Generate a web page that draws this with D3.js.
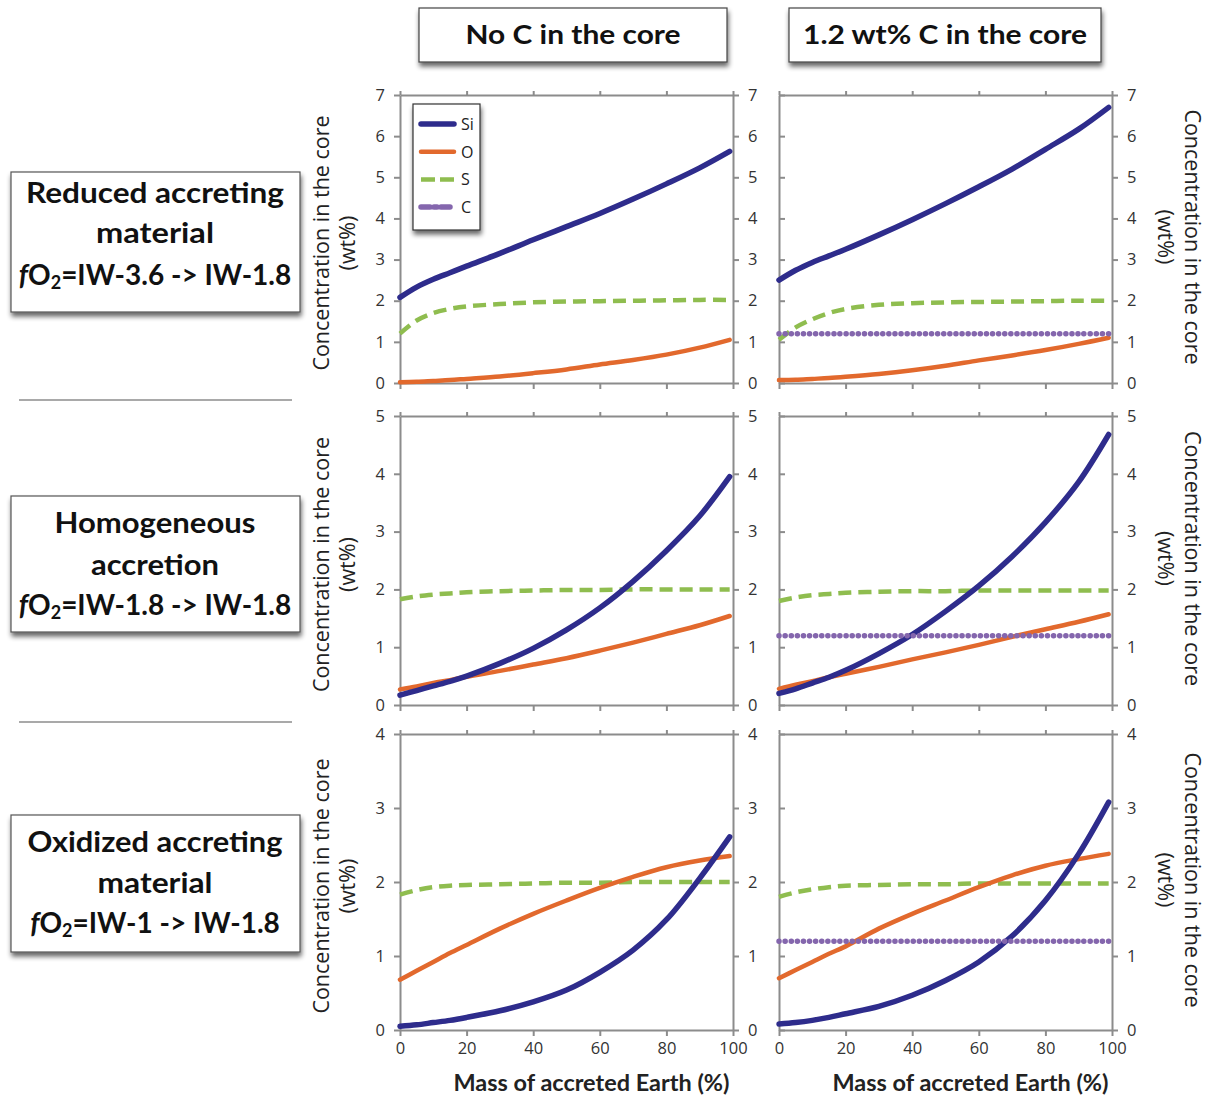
<!DOCTYPE html>
<html>
<head>
<meta charset="utf-8">
<script src="https://cdn.jsdelivr.net/npm/d3@7"></script>
<style>
  html, body { margin: 0; padding: 0; background: #fff; }
  svg { display: block; }
</style>
</head>
<body>
<svg id="chart" width="1211" height="1099"></svg>
<script>
// ---------------- DATA ----------------
const massAccreted = [0, 5, 10, 15, 20, 30, 40, 50, 60, 70, 80, 90, 99];
const xTicks = [0, 20, 40, 60, 80, 100];
const columnTitles = ["No C in the core", "1.2 wt% C in the core"];
const rowTitles = [
  ["Reduced accreting", "material", "IW-3.6 -> IW-1.8"],
  ["Homogeneous", "accretion", "IW-1.8 -> IW-1.8"],
  ["Oxidized accreting", "material", "IW-1 -> IW-1.8"]
];
const yMax = [7, 5, 4];
const seriesNames = ["Si", "O", "S", "C"];

// Reduced, no C
const siReducedNoC = [2.08, 2.33, 2.52, 2.68, 2.84, 3.15, 3.48, 3.80, 4.12, 4.47, 4.84, 5.23, 5.63];
const oReducedNoC  = [0.02, 0.03, 0.05, 0.07, 0.10, 0.16, 0.24, 0.33, 0.45, 0.56, 0.69, 0.86, 1.05];
const sReducedNoC  = [1.20, 1.52, 1.70, 1.80, 1.86, 1.92, 1.96, 1.98, 1.99, 2.00, 2.01, 2.02, 2.02];
// Reduced, 1.2 wt% C
const siReducedC = [2.50, 2.74, 2.93, 3.09, 3.25, 3.60, 3.97, 4.36, 4.77, 5.20, 5.68, 6.17, 6.70];
const oReducedC  = [0.07, 0.08, 0.10, 0.12, 0.15, 0.22, 0.31, 0.42, 0.55, 0.67, 0.80, 0.95, 1.10];
const sReducedC  = [1.05, 1.35, 1.55, 1.70, 1.80, 1.90, 1.94, 1.96, 1.97, 1.98, 1.99, 2.00, 2.00];
const cReducedC  = [1.20, 1.20, 1.20, 1.20, 1.20, 1.20, 1.20, 1.20, 1.20, 1.20, 1.20, 1.20, 1.20];
// Homogeneous, no C
const siHomogNoC = [0.17, 0.25, 0.33, 0.41, 0.50, 0.72, 0.98, 1.30, 1.68, 2.14, 2.67, 3.27, 3.95];
const oHomogNoC  = [0.27, 0.32, 0.38, 0.43, 0.49, 0.59, 0.70, 0.81, 0.94, 1.08, 1.23, 1.38, 1.54];
const sHomogNoC  = [1.83, 1.88, 1.91, 1.93, 1.95, 1.97, 1.98, 1.99, 1.99, 2.00, 2.00, 2.00, 2.00];
// Homogeneous, 1.2 wt% C
const siHomogC = [0.20, 0.28, 0.38, 0.48, 0.60, 0.89, 1.22, 1.62, 2.06, 2.57, 3.16, 3.86, 4.68];
const oHomogC  = [0.28, 0.35, 0.41, 0.48, 0.54, 0.66, 0.79, 0.91, 1.04, 1.18, 1.31, 1.44, 1.57];
const sHomogC  = [1.80, 1.86, 1.90, 1.92, 1.94, 1.96, 1.97, 1.97, 1.98, 1.98, 1.98, 1.98, 1.98];
const cHomogC  = [1.20, 1.20, 1.20, 1.20, 1.20, 1.20, 1.20, 1.20, 1.20, 1.20, 1.20, 1.20, 1.20];
// Oxidized, no C
const siOxidNoC = [0.05, 0.07, 0.10, 0.13, 0.17, 0.26, 0.38, 0.54, 0.78, 1.08, 1.49, 2.05, 2.61];
const oOxidNoC  = [0.68, 0.80, 0.92, 1.04, 1.15, 1.37, 1.57, 1.75, 1.92, 2.07, 2.20, 2.29, 2.35];
const sOxidNoC  = [1.83, 1.89, 1.93, 1.95, 1.96, 1.97, 1.98, 1.99, 1.99, 2.00, 2.00, 2.00, 2.00];
// Oxidized, 1.2 wt% C
const siOxidC = [0.08, 0.10, 0.13, 0.17, 0.22, 0.32, 0.47, 0.67, 0.92, 1.27, 1.75, 2.38, 3.08];
const oOxidC  = [0.70, 0.81, 0.92, 1.03, 1.13, 1.37, 1.57, 1.75, 1.93, 2.09, 2.22, 2.31, 2.38];
const sOxidC  = [1.80, 1.86, 1.90, 1.93, 1.95, 1.96, 1.97, 1.97, 1.98, 1.98, 1.98, 1.98, 1.98];
const cOxidC  = [1.20, 1.20, 1.20, 1.20, 1.20, 1.20, 1.20, 1.20, 1.20, 1.20, 1.20, 1.20, 1.20];

const panelSeries = [
  [{Si: siReducedNoC, O: oReducedNoC, S: sReducedNoC}, {Si: siReducedC, O: oReducedC, S: sReducedC, C: cReducedC}],
  [{Si: siHomogNoC, O: oHomogNoC, S: sHomogNoC}, {Si: siHomogC, O: oHomogC, S: sHomogC, C: cHomogC}],
  [{Si: siOxidNoC, O: oOxidNoC, S: sOxidNoC}, {Si: siOxidC, O: oOxidC, S: sOxidC, C: cOxidC}]
];

// ---------------- STYLE / LAYOUT ----------------
const styles = {
  Si: {color: "#2e2c8c", width: 5.5, dash: null, cap: "round"},
  O:  {color: "#e2692d", width: 4.5, dash: null, cap: "round"},
  S:  {color: "#8fbd4f", width: 4.5, dash: "13,7", cap: "butt"},
  C:  {color: "#8466ad", width: 5.5, dash: "0.1,6", cap: "round"}
};
const drawOrder = ["S", "O", "Si", "C"];
const cols = [{x0: 400, x1: 733}, {x0: 779, x1: 1112}];
const rows = [{top: 95, bot: 383}, {top: 416, bot: 705}, {top: 734, bot: 1030}];
const axisColor = "#8c8c8c";
const tickFont = "'Open Sans', 'DejaVu Sans', sans-serif";
const labelFont = "Lato, 'Open Sans', sans-serif";

const svg = d3.select("#chart");
const defs = svg.append("defs");
const sh = defs.append("filter").attr("id", "shadow").attr("x", "-10%").attr("y", "-10%").attr("width", "130%").attr("height", "140%");
sh.append("feGaussianBlur").attr("in", "SourceAlpha").attr("stdDeviation", 2.5);
sh.append("feOffset").attr("dx", 1).attr("dy", 4).attr("result", "ob");
sh.append("feComponentTransfer").append("feFuncA").attr("type", "linear").attr("slope", 0.6);
const mg = sh.append("feMerge");
mg.append("feMergeNode");
mg.append("feMergeNode").attr("in", "SourceGraphic");

// ---------------- COLUMN HEADERS ----------------
const headerBoxes = [{x: 419, w: 308, tl: 215}, {x: 789, w: 312, tl: 284}];
columnTitles.forEach((t, i) => {
  const b = headerBoxes[i];
  svg.append("rect").attr("x", b.x).attr("y", 8).attr("width", b.w).attr("height", 54)
    .attr("fill", "#fff").attr("stroke", "#444").attr("stroke-width", 1.2).attr("filter", "url(#shadow)");
  svg.append("text").attr("x", b.x + b.w / 2).attr("y", 44).attr("text-anchor", "middle")
    .attr("font-family", labelFont).attr("font-weight", "bold").attr("font-size", 27)
    .attr("textLength", b.tl).attr("lengthAdjust", "spacingAndGlyphs")
    .attr("fill", "#111").text(t);
});

// ---------------- ROW LABELS ----------------
const rowBoxes = [
  {y: 172, h: 140, base: [203, 243, 285], tl: [258, 118]},
  {y: 496, h: 136, base: [533, 575, 615], tl: [201, 128]},
  {y: 815, h: 137, base: [852, 893, 933], tl: [255, 115]}
];
rowTitles.forEach((lines, i) => {
  const b = rowBoxes[i];
  svg.append("rect").attr("x", 11).attr("y", b.y).attr("width", 289).attr("height", b.h)
    .attr("fill", "#fff").attr("stroke", "#555").attr("stroke-width", 1.2).attr("filter", "url(#shadow)");
  [0, 1].forEach(k => {
    svg.append("text").attr("x", 155).attr("y", b.base[k]).attr("text-anchor", "middle")
      .attr("font-family", labelFont).attr("font-weight", "bold").attr("font-size", 28)
      .attr("textLength", b.tl[k]).attr("lengthAdjust", "spacingAndGlyphs")
      .attr("fill", "#111").text(lines[k]);
  });
  const t = svg.append("text").attr("x", 155).attr("y", b.base[2]).attr("text-anchor", "middle")
    .attr("font-family", labelFont).attr("font-weight", "bold").attr("font-size", 28).attr("fill", "#111");
  t.append("tspan").attr("font-style", "italic").text("f");
  t.append("tspan").text("O");
  t.append("tspan").attr("font-size", 18).attr("dy", 4).text("2");
  t.append("tspan").attr("dy", -4).text("=" + lines[2]);
});
// separators
[400, 722].forEach(yy => {
  svg.append("line").attr("x1", 19).attr("x2", 292).attr("y1", yy).attr("y2", yy)
    .attr("stroke", "#555").attr("stroke-width", 1.2);
});

// ---------------- PANELS ----------------
function styleAxis(g) {
  g.selectAll(".domain").attr("stroke", axisColor).attr("stroke-width", 2);
  g.selectAll(".tick line").attr("stroke", axisColor).attr("stroke-width", 2);
  g.selectAll(".tick text").attr("fill", "#333").attr("font-family", tickFont).attr("font-size", 16.5);
}
const fmt = d3.format("d");

rows.forEach((r, ri) => {
  cols.forEach((c, ci) => {
    const x = d3.scaleLinear().domain([0, 100]).range([c.x0, c.x1]);
    const y = d3.scaleLinear().domain([0, yMax[ri]]).range([r.bot, r.top]);
    const g = svg.append("g");
    const yt = d3.range(0, yMax[ri] + 1);

    // top
    g.append("g").attr("transform", `translate(0,${r.top})`)
      .call(d3.axisTop(x).tickValues(xTicks).tickSize(4).tickFormat("").tickSizeOuter(0)).call(styleAxis);
    // bottom
    const bx = d3.axisBottom(x).tickValues(xTicks).tickSize(6).tickPadding(6).tickSizeOuter(0).tickFormat(fmt);
    if (ri !== 2) bx.tickFormat("");
    g.append("g").attr("transform", `translate(0,${r.bot})`).call(bx).call(styleAxis);
    // left
    if (ci === 0) {
      g.append("g").attr("transform", `translate(${c.x0},0)`)
        .call(d3.axisLeft(y).tickValues(yt).tickSize(6).tickPadding(9).tickSizeOuter(0).tickFormat(fmt)).call(styleAxis);
    } else {
      g.append("g").attr("transform", `translate(${c.x0},0)`)
        .call(d3.axisRight(y).tickValues(yt).tickSize(6).tickFormat("").tickSizeOuter(0)).call(styleAxis);
    }
    // right
    g.append("g").attr("transform", `translate(${c.x1},0)`)
      .call(d3.axisRight(y).tickValues(yt).tickSize(6).tickPadding(9).tickSizeOuter(0).tickFormat(fmt)).call(styleAxis);

    // lines
    const line = d3.line().x(d => x(d[0])).y(d => y(d[1])).curve(d3.curveCatmullRom.alpha(0.5));
    const ser = panelSeries[ri][ci];
    drawOrder.forEach(name => {
      if (!ser[name]) return;
      const st = styles[name];
      g.append("path").datum(massAccreted.map((m, i) => [m, ser[name][i]]))
        .attr("d", line).attr("fill", "none").attr("stroke", st.color)
        .attr("stroke-width", st.width).attr("stroke-linecap", st.cap)
        .attr("stroke-dasharray", st.dash);
    });

    // y titles
    const cy = (r.top + r.bot) / 2;
    const titleSize = 21.5;
    if (ci === 0) {
      svg.append("text").attr("transform", `translate(320,${cy + 4}) rotate(-90)`)
        .attr("text-anchor", "middle").attr("dominant-baseline", "central")
        .attr("font-family", tickFont).attr("font-size", titleSize).attr("fill", "#222").text("Concentration in the core");
      svg.append("text").attr("transform", `translate(346,${cy + 4}) rotate(-90)`)
        .attr("text-anchor", "middle").attr("dominant-baseline", "central")
        .attr("font-family", tickFont).attr("font-size", titleSize).attr("fill", "#222").text("(wt%)");
    } else {
      svg.append("text").attr("transform", `translate(1193,${cy - 2}) rotate(90)`)
        .attr("text-anchor", "middle").attr("dominant-baseline", "central")
        .attr("font-family", tickFont).attr("font-size", titleSize).attr("fill", "#222").text("Concentration in the core");
      svg.append("text").attr("transform", `translate(1166,${cy - 2}) rotate(90)`)
        .attr("text-anchor", "middle").attr("dominant-baseline", "central")
        .attr("font-family", tickFont).attr("font-size", titleSize).attr("fill", "#222").text("(wt%)");
    }

    // x title
    if (ri === 2) {
      svg.append("text").attr("x", (c.x0 + c.x1) / 2 + 25).attr("y", 1091).attr("text-anchor", "middle")
        .attr("font-family", labelFont).attr("font-weight", "bold").attr("font-size", 22)
        .attr("textLength", 276).attr("lengthAdjust", "spacingAndGlyphs")
        .attr("fill", "#222").text("Mass of accreted Earth (%)");
    }

    // legend
    if (ri === 0 && ci === 0) {
      const lg = svg.append("g");
      lg.append("rect").attr("x", 413).attr("y", 104).attr("width", 67).attr("height", 126)
        .attr("fill", "#fff").attr("stroke", "#333").attr("stroke-width", 1.2).attr("filter", "url(#shadow)");
      seriesNames.forEach((name, k) => {
        const ly = 124 + k * 27.7;
        const st = styles[name];
        lg.append("line").attr("x1", 421).attr("x2", 454).attr("y1", ly).attr("y2", ly)
          .attr("stroke", st.color).attr("stroke-width", st.width).attr("stroke-linecap", st.cap)
          .attr("stroke-dasharray", name === "S" ? "14,5" : (name === "C" ? "9,4,3,4" : null));
        lg.append("text").attr("x", 461).attr("y", ly).attr("dominant-baseline", "central")
          .attr("font-family", tickFont).attr("font-size", 16).attr("fill", "#222").text(name);
      });
    }
  });
});
</script>
</body>
</html>
